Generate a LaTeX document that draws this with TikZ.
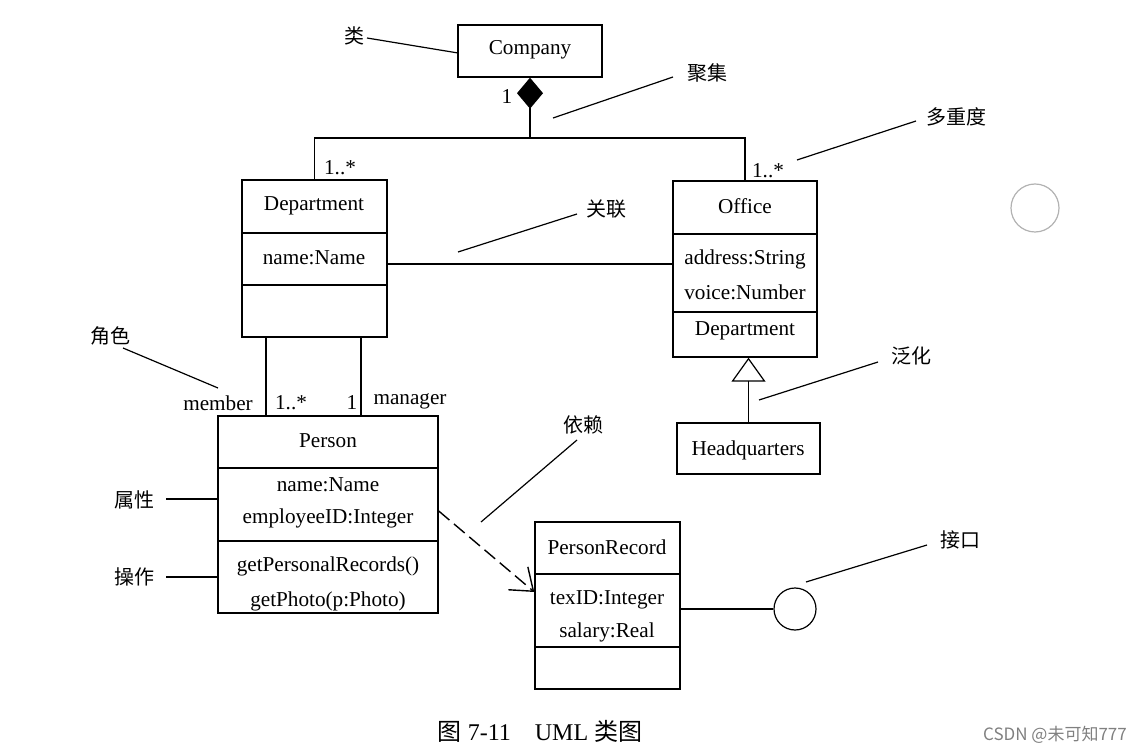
\documentclass[tikz,border=0pt]{standalone}
\usepackage{fontspec}
\setmainfont{Liberation Serif}
\newfontfamily\cjk{Noto Sans CJK SC}
\usetikzlibrary{arrows.meta}
\tikzset{
  umlbox/.style={draw, line width=0.7pt, inner sep=0pt},
  txt/.style={inner sep=1pt, yshift=-1.5pt, font=\fontsize{10.6}{12}\selectfont},
  note/.style={inner sep=1pt, font=\fontsize{10}{12}\selectfont\cjk},
  link/.style={line width=0.6pt},
}
\begin{document}
\begin{tikzpicture}[x=0.5pt, y=-0.5pt]
\useasboundingbox (0,0) rectangle (1145,753);
% class boxes
\node[umlbox, minimum width=72pt, minimum height=26pt] (company) at (530,51) {};
\node[umlbox, minimum width=72.5pt, minimum height=78.5pt] (dept) at (314.5,258.5) {};
\node[umlbox, minimum width=72pt, minimum height=88pt] (office) at (745,269) {};
\node[umlbox, minimum width=71.5pt, minimum height=25.5pt] (hq) at (748.5,448.5) {};
\node[umlbox, minimum width=110pt, minimum height=98.5pt] (person) at (328,514.5) {};
\node[umlbox, minimum width=72.5pt, minimum height=83.5pt] (prec) at (607.5,605.5) {};
% compartments
\foreach \b/\y in {dept/233, dept/285, office/234, office/312,
                   person/468, person/541, prec/574, prec/647}
  \draw[line width=0.7pt] (\b.west |- 0,\y) -- (\b.east |- 0,\y);
% class texts
\foreach \n/\x/\y/\t in {companyname/530/47/Company,
    deptname/314/203/Department, deptattr/314/255/name:Name,
    officename/745/203/Office, officeaddr/745/256/address:String,
    officevoice/745/289/voice:Number, officeop/745/328/Department,
    hqname/748/447/Headquarters,
    personname/328/438/Person, personattr/328/482/name:Name,
    personid/328/515/employeeID:Integer,
    personop/328/563/getPersonalRecords(), personphoto/328/598/getPhoto(p:Photo),
    precname/607/544/PersonRecord, precid/607/597/texID:Integer,
    precsal/607/629/salary:Real}
  \node[txt] (\n) at (\x,\y) {\t};
% multiplicities and roles
\foreach \n/\x/\y/\t in {multcomp/507/94/1, multdept/340/165/1..*,
    multoffice/768/168/1..*, rolemember/218/400/member,
    multmember/291/400/1..*, multmanager/352/400/1, rolemanager/410/398/manager}
  \node[txt] (\n) at (\x,\y) {\t};
% relations
\coordinate (junc) at (530,138);
\draw[link, {Diamond[width=13pt,length=15.5pt]}-] (company.south) -- (junc);
\draw[link] (dept.north) |- (junc) -| (office.north);
\draw[link] (dept.east |- 0,264) -- (office.west |- 0,264);
\draw[link] (dept.south -| 266,0) -- (person.north -| 266,0);
\draw[link] (dept.south -| 361,0) -- (person.north -| 361,0);
\draw[link, -{Triangle[open,width=17pt,length=12pt]}] (hq.north) -- (hq.north |- office.south);
\draw[link, line width=0.7pt, dash pattern=on 7pt off 3pt,
      -{Straight Barb[length=10pt,width=15pt]}]
  (person.east |- 0,511) -- (prec.west |- 0,592);
\node[circle, draw, line width=0.6pt, minimum size=21pt, inner sep=0pt] (iface) at (795,609) {};
\draw[link] (prec.east |- iface.west) -- (iface.west);
% annotations
\foreach \n/\lx/\ly/\t/\ax/\ay/\bx/\by in {
    lei/354/36/类/367/38/458/53,
    juji/707/73/聚集/673/77/553/118,
    duochong/956/117/多重度/916/121/797/160,
    guanlian/606/209/关联/577/214/458/252,
    juese/110/336/角色/123/348/218/388,
    fanhua/911/356/泛化/878/362/759/400,
    yilai/583/425/依赖/577/440/481/522,
    shuxing/134/500/属性/166/499/218/499,
    caozuo/134/577/操作/166/577/218/577,
    jiekou/960/540/接口/927/545/806/582} {
  \node[note] (\n) at (\lx,\ly) {\t};
  \coordinate (\n-from) at (\ax,\ay);
  \coordinate (\n-to) at (\bx,\by);
  \draw[link] (\n-from) -- (\n-to);
}
% caption, watermark
\node[inner sep=0pt, font=\fontsize{12}{14}\selectfont] (caption) at (540,731)
  {{\cjk 图} 7-11\quad UML {\cjk 类图}};
\node[inner sep=0pt, text=gray, font=\fontsize{8.5}{10}\selectfont\cjk] (mark) at (1055,735)
  {CSDN @未可知777};
\node[circle, draw=gray!60, line width=0.6pt, minimum size=24pt] (cursor) at (1035,208) {};
\end{tikzpicture}
\end{document}
